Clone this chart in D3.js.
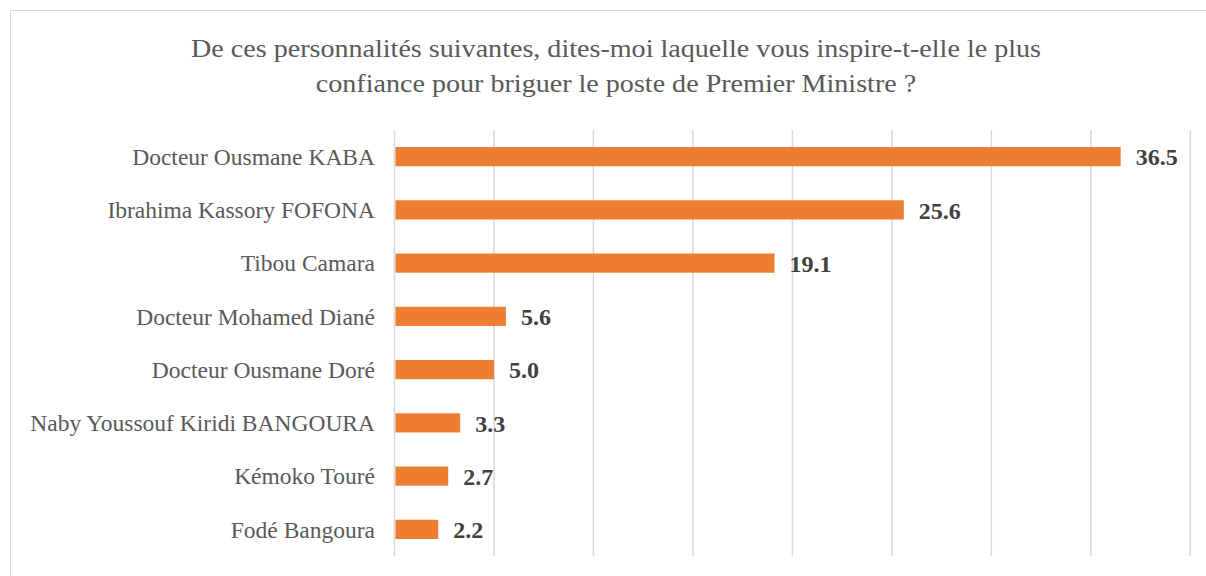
<!DOCTYPE html>
<html><head><meta charset="utf-8">
<script src="https://cdn.jsdelivr.net/npm/d3@7"></script>
<style>body{margin:0;background:#fff}svg{display:block}</style>
</head><body>
<svg id="c" width="1206" height="576"></svg>
<script>
const categories = ["Docteur Ousmane KABA","Ibrahima Kassory FOFONA","Tibou Camara","Docteur Mohamed Diané","Docteur Ousmane Doré","Naby Youssouf Kiridi BANGOURA","Kémoko Touré","Fodé Bangoura"];
const values = [36.5,25.6,19.1,5.6,5.0,3.3,2.7,2.2];
const valueLabels = ["36.5","25.6","19.1","5.6","5.0","3.3","2.7","2.2"];
const tickValues = [0,5,10,15,20,25,30,35,40];
const titleLines = ["De ces personnalités suivantes, dites-moi laquelle vous inspire-t-elle le plus","confiance pour briguer le poste de Premier Ministre ?"];

const svg = d3.select("#c");
const font = "'Liberation Serif', 'DejaVu Serif', serif";
svg.append("rect").attr("x",10.5).attr("y",10.5).attr("width",1210).attr("height",600)
  .attr("fill","#fff").attr("stroke","#d9d9d9").attr("stroke-width",1);

const x = d3.scaleLinear().domain([0,40]).range([394.5,1190.3]);
const y = d3.scaleBand().domain(categories).range([130,556]).paddingInner(0.64).paddingOuter(0.32);

svg.append("g").selectAll("line").data(tickValues).join("line")
  .attr("x1",d=>x(d)).attr("x2",d=>x(d)).attr("y1",130).attr("y2",556)
  .attr("stroke","#d9d9d9").attr("stroke-width",1.5);

svg.append("g").selectAll("rect").data(values).join("rect")
  .attr("x",x(0)+1).attr("y",(d,i)=>y(categories[i]))
  .attr("width",d=>x(d)-x(0)-1).attr("height",y.bandwidth())
  .attr("fill","#ed7d31");

svg.append("g").selectAll("text").data(valueLabels).join("text")
  .attr("x",(d,i)=>x(values[i])+15).attr("y",(d,i)=>y(categories[i])+y.bandwidth()/2)
  .attr("dy","0.36em").attr("font-family",font).attr("font-weight","bold").attr("font-size",24)
  .attr("fill","#404040").text(d=>d);

svg.append("g").selectAll("text").data(categories).join("text")
  .attr("x",375).attr("y",d=>y(d)+y.bandwidth()/2).attr("dy","0.35em")
  .attr("text-anchor","end").attr("font-family",font).attr("font-size",23.5)
  .attr("fill","#595959").text(d=>d);

const tl = svg.append("g").selectAll("text").data(titleLines).join("text")
  .attr("x",616).attr("y",(d,i)=>57+i*35).attr("text-anchor","middle")
  .attr("font-family",font).attr("font-size",26).attr("fill","#595959").text(d=>d);
tl.each(function(){
  const w = this.getComputedTextLength();
  d3.select(this).attr("textLength", w*1.08).attr("lengthAdjust","spacingAndGlyphs");
});
</script>
</body></html>
